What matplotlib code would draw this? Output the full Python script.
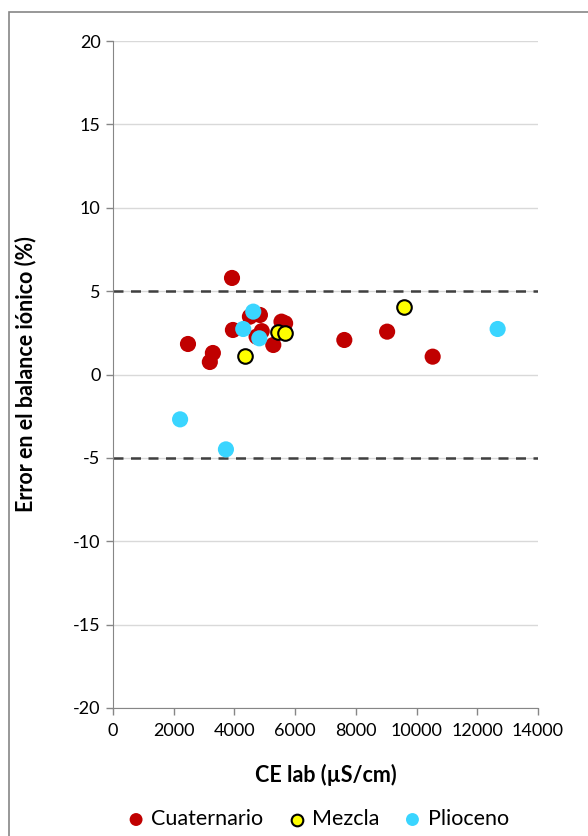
import matplotlib
matplotlib.use("Agg")
import matplotlib.pyplot as plt
from matplotlib.patches import Rectangle

# Cuaternario (red)
cuat_ce = [3920, 2470, 3290, 3190, 3950, 4510, 4840, 4730, 5280, 5550, 5670, 4900, 7620, 9030, 10530]
cuat_err = [5.79, 1.83, 1.29, 0.75, 2.67, 3.47, 3.57, 2.27, 1.77, 3.17, 3.07, 2.60, 2.07, 2.57, 1.07]

# Mezcla (yellow)
mez_ce = [4350, 5450, 5670, 9580]
mez_err = [1.11, 2.57, 2.51, 4.07]

# Plioceno (cyan)
plio_ce = [4290, 4620, 4820, 12670, 2210, 3720]
plio_err = [2.73, 3.77, 2.17, 2.73, -2.69, -4.49]

x_ticks = list(range(0, 14001, 2000))
y_ticks = list(range(-20, 21, 5))
limits = [5, -5]

plt.rcParams["font.family"] = ["Lato", "DejaVu Sans"]
plt.rcParams["axes.unicode_minus"] = False

fig = plt.figure(figsize=(5.88, 8.36), dpi=100)
fig.patches.append(Rectangle((9 / 588, -0.1), 1.2, 1 - 12 / 836 + 0.1,
                             transform=fig.transFigure, fill=False,
                             edgecolor="#868686", linewidth=1.2))
ax = fig.add_axes([113 / 588, 1 - 708 / 836, 425 / 588, 667 / 836])

for yv in y_ticks:
    ax.axhline(yv, color="#d9d9d9", linewidth=1, zorder=0)
for yv in limits:
    ax.axhline(yv, color="#404040", linewidth=1.8, linestyle=(0, (4, 3)), zorder=1)

ax.scatter(cuat_ce, cuat_err, s=135, color="#C00000", edgecolors="none",
           label="Cuaternario", zorder=3)
ax.scatter(mez_ce, mez_err, s=110, color="#FFFF00", edgecolors="black",
           linewidths=1.5, label="Mezcla", zorder=4)
ax.scatter(plio_ce, plio_err, s=135, color="#3AD5FF", edgecolors="none",
           label="Plioceno", zorder=5)

ax.set_xlim(0, 14000)
ax.set_ylim(-20, 20)
ax.set_xticks(x_ticks)
ax.set_yticks(y_ticks)
ax.tick_params(labelsize=13, color="#868686", length=5, width=1, pad=4)
ax.tick_params(axis="x", pad=6)
for s in ["top", "right"]:
    ax.spines[s].set_visible(False)
for s in ["left", "bottom"]:
    ax.spines[s].set_color("#868686")

ax.set_xlabel("CE lab (µS/cm)", fontsize=15.5, fontweight="bold", labelpad=18)
ax.set_ylabel("Error en el balance iónico (%)", fontsize=15.5, fontweight="bold", labelpad=26)

fig.legend(loc="lower center", bbox_to_anchor=(0.54, -0.015), ncol=3, frameon=False,
           fontsize=15.5, handlelength=0.9, handletextpad=0.25, columnspacing=1.1,
           markerscale=0.8)

fig.savefig("out.png", dpi=100)
